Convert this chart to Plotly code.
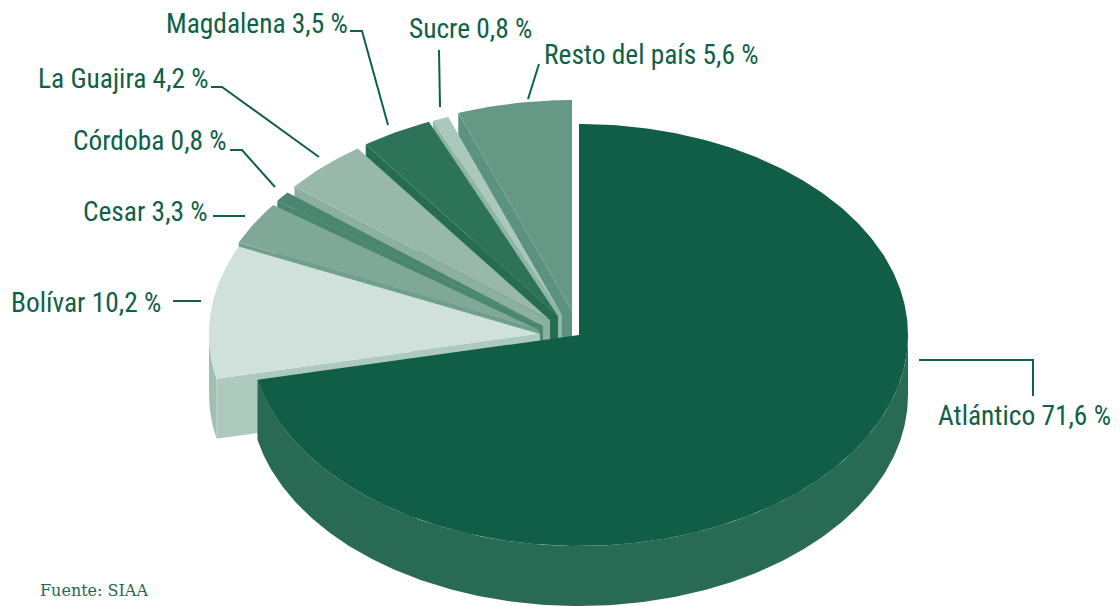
import numpy as np
import plotly.graph_objects as go

# ---- data ----
categories = ["Atlántico", "Bolívar", "Cesar", "Córdoba", "La Guajira", "Magdalena", "Sucre", "Resto del país"]
shares = [71.6, 10.2, 3.3, 0.8, 4.2, 3.5, 0.8, 5.6]
value_labels = ["71,6 %", "10,2 %", "3,3 %", "0,8 %", "4,2 %", "3,5 %", "0,8 %", "5,6 %"]

# ---- styling / layout constants ----
top_colors = ["#115e46", "#d0e0da", "#7fa898", "#4b8670", "#98b8aa", "#2d7359", "#abc8bd", "#659885"]
cut_colors = ["#115e46", "#aecabf", "#6f9f8d", "#4b8670", "#8bb0a0", "#266c53", "#8fb5a6", "#5c9280"]
rim_colors = ["#286a54", "#a0c0b4", "#6a9a88", "#3f7d66", "#85ab9b", "#1f6a50", "#8fb5a6", "#578d79"]
apex_x = [579, 540, 539, 543, 550, 558, 562, 572]
apex_y = [335, 334, 330, 326, 320, 316, 315, 311]
radius_x = [329, 331, 330, 330, 330, 330, 330, 330]
label_x = [938, 11, 83, 73, 38, 166, 409, 544]
label_y = [418, 305, 214, 143, 81, 26, 31, 57]
leaders = [
    [(919, 360), (1033, 360), (1033, 396)],
    [(173, 301), (201, 301)],
    [(213, 216), (245, 216)],
    [(230, 150), (242, 150), (275, 187)],
    [(211, 87), (222, 87), (319, 157)],
    [(350, 31), (362, 31), (388, 125)],
    [(439, 50), (440, 107)],
    [(539, 64), (528, 99)],
]
RY, DEPTH = 211, 60
INK = "#0f6048"
LABEL_FONT = "Roboto Condensed"
LABEL_SIZE = 27.4

fig = go.Figure()


def poly(xs, ys, color):
    fig.add_trace(go.Scatter(x=list(xs), y=list(ys), mode="lines", fill="toself",
                             fillcolor=color, line=dict(width=0, color=color),
                             hoverinfo="skip", showlegend=False))


edges = np.cumsum([0] + shares) / sum(shares) * 2 * np.pi


def arc(i, a, b):
    t = np.linspace(a, b, max(int(abs(b - a) * 80), 2))
    return apex_x[i] + radius_x[i] * np.sin(t), apex_y[i] - RY * np.cos(t)


for i in range(len(shares) - 1, -1, -1):
    a, b = edges[i], edges[i + 1]
    ox, oy = arc(i, a, a + 1e-6)
    if i > 0:
        poly([apex_x[i], ox[0], ox[0], apex_x[i]],
             [apex_y[i], oy[0], oy[0] + DEPTH, apex_y[i] + DEPTH], cut_colors[i])
    lo, hi = max(a, np.pi / 2), min(b, 3 * np.pi / 2)
    if hi > lo:
        rx, ry = arc(i, lo, hi)
        poly(np.r_[rx, rx[::-1]], np.r_[ry, ry[::-1] + DEPTH], rim_colors[i])
    tx, ty = arc(i, a, b)
    poly(np.r_[apex_x[i], tx], np.r_[apex_y[i], ty], top_colors[i])

for seg in leaders:
    fig.add_trace(go.Scatter(x=[p[0] for p in seg], y=[p[1] for p in seg], mode="lines",
                             line=dict(color=INK, width=2), hoverinfo="skip", showlegend=False))

fig.add_trace(go.Scatter(
    x=label_x, y=label_y, mode="text",
    text=[f"{c} {v}" for c, v in zip(categories, value_labels)],
    textposition="middle right",
    textfont=dict(family=LABEL_FONT, size=LABEL_SIZE, color=INK),
    hoverinfo="skip", showlegend=False))

fig.add_trace(go.Scatter(
    x=[40], y=[592], mode="text", text=["Fuente: SIAA"], textposition="middle right",
    textfont=dict(family="DejaVu Serif", size=16, color="#1f6a52"),
    hoverinfo="skip", showlegend=False))

fig.update_layout(
    width=1120, height=606, margin=dict(l=0, r=0, t=0, b=0),
    paper_bgcolor="white", plot_bgcolor="white", showlegend=False,
    xaxis=dict(range=[0, 1120], visible=False, fixedrange=True),
    yaxis=dict(range=[606, 0], visible=False, fixedrange=True),
)
fig.write_html("out.html", config={"displayModeBar": False},
               post_script="document.body.style.margin='0';document.documentElement.style.overflow='hidden';")
